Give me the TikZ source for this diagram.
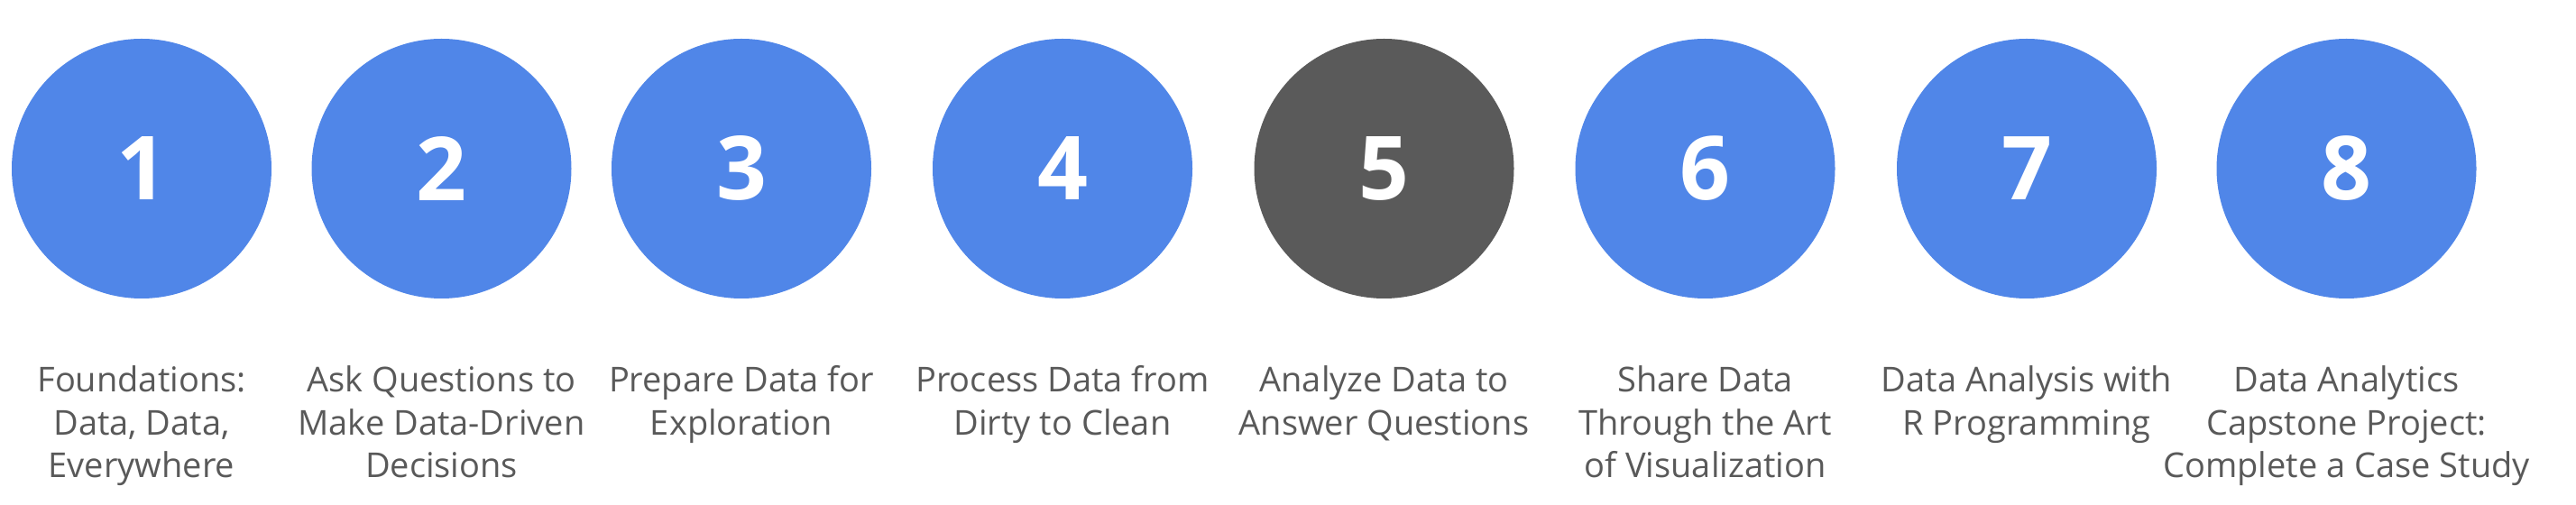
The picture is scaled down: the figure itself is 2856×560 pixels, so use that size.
\documentclass[tikz,border=0pt]{standalone}
\usepackage{fontspec}
\setmainfont{Open Sans}
\definecolor{stepblue}{HTML}{5086E8}
\definecolor{stepgray}{HTML}{5A5A5A}
\definecolor{labelgray}{HTML}{595959}
\tikzset{
  stepcircle/.style={circle, fill=stepblue, minimum size=144pt, inner sep=0pt,
    text=white, font=\fontsize{49}{49}\selectfont\bfseries},
  activecircle/.style={stepcircle, fill=stepgray},
  steplabel/.style={anchor=base, inner sep=0pt, text=labelgray,
    font=\fontsize{19}{23.75}\selectfont}
}
\newcommand{\lbl}[1]{\begin{tabular}[t]{@{}c@{}}#1\end{tabular}}
\begin{document}
\begin{tikzpicture}[x=0.5pt, y=-0.5pt]
\useasboundingbox[fill=white] (0,0) rectangle (2856,560);
\node[stepcircle] (c1) at (157,187) {1};
\node[stepcircle] (c2) at (489.5,187) {2};
\node[stepcircle] (c3) at (822,187) {3};
\node[stepcircle] (c4) at (1178,187) {4};
\node[activecircle] (c5) at (1534.5,187) {5};
\node[stepcircle] (c6) at (1890.5,187) {6};
\node[stepcircle] (c7) at (2247,187) {7};
\node[stepcircle] (c8) at (2601.5,187) {8};
\node[steplabel] (t1) at (157,435) {\lbl{Foundations:\\Data, Data,\\Everywhere}};
\node[steplabel] (t2) at (489.5,435) {\lbl{Ask Questions to\\Make Data-Driven\\Decisions}};
\node[steplabel] (t3) at (822,435) {\lbl{Prepare Data for\\Exploration}};
\node[steplabel] (t4) at (1178,435) {\lbl{Process Data from\\Dirty to Clean}};
\node[steplabel] (t5) at (1534.5,435) {\lbl{Analyze Data to\\Answer Questions}};
\node[steplabel] (t6) at (1890.5,435) {\lbl{Share Data\\Through the Art\\of Visualization}};
\node[steplabel] (t7) at (2247,435) {\lbl{Data Analysis with\\R Programming}};
\node[steplabel] (t8) at (2601.5,435) {\lbl{Data Analytics\\Capstone Project:\\Complete a Case Study}};
\end{tikzpicture}
\end{document}
